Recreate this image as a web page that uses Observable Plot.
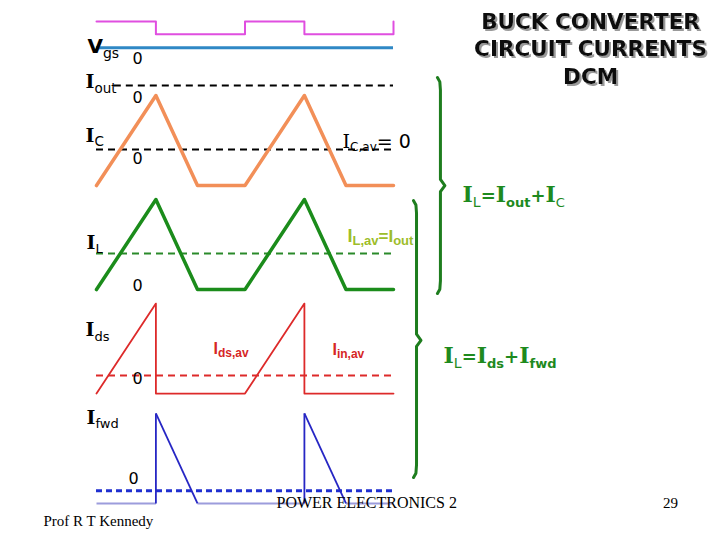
<!DOCTYPE html>
<html><head><meta charset="utf-8">
<script src="https://cdn.jsdelivr.net/npm/d3@7"></script>
<script src="https://cdn.jsdelivr.net/npm/@observablehq/plot@0.6"></script>
<style>html,body{margin:0;padding:0;background:#fff;} #chart{width:720px;height:540px;}</style>
</head><body><div id="chart"></div>
<script>
// ---------- DATA (time in switching periods, currents in arbitrary units) ----------
const vgsTime  = [0, 0.4, 0.4, 1.0, 1.0, 1.4, 1.4, 2.0, 2.0];
const vgsGate  = [1, 1, 0, 0, 1, 1, 0, 0, 1];
const icTime   = [0, 0.4, 0.68, 1.0, 1.4, 1.68, 2.0];
const icValue  = [-1.0, 1.5, -1.0, -1.0, 1.5, -1.0, -1.0];
const ilTime   = [0, 0.4, 0.68, 1.0, 1.4, 1.68, 2.0];
const ilValue  = [0, 2.5, 0, 0, 2.5, 0, 0];
const idsTime  = [0, 0.4, 0.4, 1.0, 1.4, 1.4, 2.0];
const idsValue = [0, 2.5, 0, 0, 2.5, 0, 0];
const ifwdTime  = [0, 0.4, 0.4, 0.68, 1.4, 1.4, 1.68, 2.0];
const ifwdValue = [0, 0, 2.5, 0, 0, 2.5, 0, 0];
const avgNames  = ["Iout", "IC", "IL", "Ids", "Ifwd"];
const avgValues = [0, 0, 1.0, 0.5, 0.35];
const titleLines = ["BUCK CONVERTER", "CIRCUIT CURRENTS", "DCM"];
const footerLeft = "Prof R T Kennedy";
const footerMid = "POWER ELECTRONICS 2";
const pageNo = "29";

// ---------- LAYOUT (trace baselines on the shared y scale) ----------
const base = {gate: 14.06, vgs: 13.69, Iout: 12.64, IC: 10.86, IL: 6.97, Ids: 4.08, Ifwd: 1.03};
const gateAmp = 0.36;
const SANS = "'DejaVu Sans', Verdana, sans-serif";
const SERIF = "'DejaVu Serif', serif";
const ARIAL = "'Liberation Sans', Arial, sans-serif";
const TIMES = "'Liberation Serif', 'Times New Roman', serif";

const rows = (T, V) => T.map((t, i) => ({t, v: V[i]}));
const vgsRows  = rows(vgsTime, vgsGate);
const icRows   = rows(icTime, icValue);
const ilRows   = rows(ilTime, ilValue);
const idsRows  = rows(idsTime, idsValue);
const ifwdRows = rows(ifwdTime, ifwdValue);
const ifwdSegs = d3.range(ifwdRows.length - 1).map(k => ({
  t1: ifwdRows[k].t, v1: ifwdRows[k].v, t2: ifwdRows[k + 1].t, v2: ifwdRows[k + 1].v,
  pulse: ifwdRows[k].v > 0 || ifwdRows[k + 1].v > 0
}));
const avg = Object.fromEntries(avgNames.map((n, i) => [n, avgValues[i]]));

// braces
const braceSpecs = [
  {id: "a", t: 2.316, top: 12.86, mid: 9.86, bot: 6.86},
  {id: "b", t: 2.155, top: 9.44, mid: 5.56, bot: 1.75}
];
const braceRows = braceSpecs.flatMap(b => [
  [-0.02, b.top], [-0.004, b.top - 0.12], [0, b.top - 0.35],
  [0, b.mid + 0.17], [0.03, b.mid], [0, b.mid - 0.17],
  [0, b.bot + 0.35], [-0.004, b.bot + 0.12], [-0.02, b.bot]
].map(([dt, y]) => ({id: b.id, t: b.t + dt, y})));

// text
const P = (s, size, o = {}) => ({s, size, w: o.w || "normal", f: o.f || SANS, dy: o.dy || 0});
const richLabels = [
  {t: -0.061, y: 13.53, fill: "#000", parts: [P("V", 20, {w: "bold"}), P("gs", 14, {dy: 5})]},
  {t: -0.074, y: 12.58, fill: "#000", parts: [P("I", 19, {w: "bold", f: SERIF}), P("out", 13.5, {dy: 5})]},
  {t: -0.074, y: 11.08, fill: "#000", parts: [P("I", 19, {w: "bold", f: SERIF}), P("C", 13.5, {dy: 4})]},
  {t: -0.067, y: 8.11, fill: "#000", parts: [P("I", 19, {w: "bold", f: SERIF}), P("L", 13, {dy: 4})]},
  {t: -0.074, y: 5.69, fill: "#000", parts: [P("I", 19, {w: "bold", f: SERIF}), P("ds", 13, {dy: 5})]},
  {t: -0.067, y: 3.25, fill: "#000", parts: [P("I", 19, {w: "bold", f: SERIF}), P("fwd", 13, {dy: 4})]},
  {t: 1.657, y: 10.89, fill: "#000", parts: [P("I", 19, {f: SERIF}), P("C,av", 12, {dy: 3}), P("= 0", 19)]},
  {t: 1.69, y: 8.28, fill: "#9dbd2a", parts: [P("I", 18, {w: "bold", f: ARIAL}), P("L,av", 13, {w: "bold", f: ARIAL, dy: 3}), P("=I", 17, {w: "bold", f: ARIAL}), P("out", 13, {w: "bold", f: ARIAL, dy: 3})]},
  {t: 0.788, y: 5.19, fill: "#d62626", parts: [P("I", 16, {w: "bold", f: ARIAL}), P("ds,av", 12, {w: "bold", f: ARIAL, dy: 3})]},
  {t: 1.589, y: 5.14, fill: "#d62626", parts: [P("I", 16, {w: "bold", f: ARIAL}), P("in,av", 12, {w: "bold", f: ARIAL, dy: 3})]},
  {t: 2.465, y: 9.39, fill: "#1e8a1e", parts: [P("I", 22, {w: "bold", f: SERIF}), P("L", 14, {dy: 5}), P("=", 18, {w: "bold"}), P("I", 22, {w: "bold", f: SERIF}), P("out", 13, {w: "bold", dy: 5}), P("+", 18, {w: "bold"}), P("I", 22, {w: "bold", f: SERIF}), P("C", 13, {dy: 5})]},
  {t: 2.337, y: 4.94, fill: "#1e8a1e", parts: [P("I", 22, {w: "bold", f: SERIF}), P("L", 14, {dy: 5}), P("=", 18, {w: "bold"}), P("I", 22, {w: "bold", f: SERIF}), P("ds", 13, {w: "bold", dy: 5}), P("+", 18, {w: "bold"}), P("I", 22, {w: "bold", f: SERIF}), P("fwd", 13, {w: "bold", dy: 5})]}
];
richLabels.forEach(d => d.key = d.parts.map(p => p.s).join(""));
const zeroLabels = [
  {t: 0.276, y: 13.25}, {t: 0.276, y: 12.14}, {t: 0.276, y: 10.47},
  {t: 0.276, y: 6.94}, {t: 0.276, y: 4.36}, {t: 0.25, y: 1.56}
];
const titleRows = titleLines.map((s, i) => ({s, t: 3.327, y: [14.22, 13.47, 12.69][i]}));

const dash = {strokeDasharray: "7,5", strokeWidth: 2};
const chart = Plot.plot({
  width: 720, height: 540, margin: 0,
  x: {domain: [0, 2], range: [96, 393], axis: null},
  y: {domain: [0, 15], range: [540, 0], axis: null},
  style: {background: "white", fontFamily: SANS, overflow: "visible"},
  marks: [
    // Vgs
    Plot.line(vgsRows, {x: "t", y: d => base.gate + gateAmp * d.v, stroke: "#e04ee0", strokeWidth: 2}),
    Plot.ruleY([base.vgs], {x1: 0, x2: 2, stroke: "#2f88c5", strokeWidth: 3}),
    // average / zero reference lines
    Plot.ruleY([base.Iout + avg.Iout], {x1: 0.12, x2: 2, stroke: "#000", ...dash}),
    Plot.ruleY([base.IC + avg.IC], {x1: 0, x2: 2, stroke: "#000", ...dash}),
    Plot.ruleY([base.IL + avg.IL], {x1: 0, x2: 2, stroke: "#2a8a2a", ...dash}),
    Plot.ruleY([base.Ids + avg.Ids], {x1: 0, x2: 2, stroke: "#dd2a2a", ...dash}),
    Plot.ruleY([base.Ifwd + avg.Ifwd], {x1: 0, x2: 2, stroke: "#1f2fd0", strokeWidth: 3, strokeDasharray: "6,4"}),
    // waveforms
    Plot.line(icRows, {x: "t", y: d => base.IC + d.v, stroke: "#f28f58", strokeWidth: 3.5}),
    Plot.line(ilRows, {x: "t", y: d => base.IL + d.v, stroke: "#1b8c1b", strokeWidth: 3.5}),
    Plot.line(idsRows, {x: "t", y: d => base.Ids + d.v, stroke: "#dd2a2a", strokeWidth: 1.8}),
    Plot.link(ifwdSegs.filter(d => !d.pulse), {x1: "t1", y1: d => base.Ifwd + d.v1, x2: "t2", y2: d => base.Ifwd + d.v2, stroke: "#9c9cdc", strokeWidth: 2}),
    Plot.link(ifwdSegs.filter(d => d.pulse), {x1: "t1", y1: d => base.Ifwd + d.v1, x2: "t2", y2: d => base.Ifwd + d.v2, stroke: "#2626c4", strokeWidth: 1.8}),
    // braces
    Plot.line(braceRows, {x: "t", y: "y", z: "id", stroke: "#1e7d1e", strokeWidth: 3}),
    // zero labels
    Plot.text(zeroLabels, {x: "t", y: "y", text: () => "0", lineAnchor: "bottom", textAnchor: "middle", fontSize: 16, fill: "#000"}),
    // rich labels (subscripts added below)
    Plot.text(richLabels, {x: "t", y: "y", text: "key", lineAnchor: "bottom", textAnchor: "start", fontSize: 16}),
    // title (drop shadow added below as an SVG filter)
    Plot.text(titleRows, {x: "t", y: "y", text: "s", lineAnchor: "bottom", textAnchor: "middle", fontSize: 21.5, fontWeight: "bold", fill: "#111"}),
    // footer
    Plot.text([footerMid], {x: 1.212, y: 0.89, text: d => d, lineAnchor: "bottom", textAnchor: "start", fontSize: 16, fontFamily: TIMES, fill: "#000"}),
    Plot.text([pageNo], {x: 3.865, y: 0.89, text: d => d, lineAnchor: "bottom", textAnchor: "middle", fontSize: 15, fontFamily: TIMES, fill: "#000"}),
    Plot.text([footerLeft], {x: -0.357, y: 0.39, text: d => d, lineAnchor: "bottom", textAnchor: "start", fontSize: 15, fontFamily: TIMES, fill: "#000"})
  ]
});

// drop-shadow filter for the title
const svg = d3.select(chart);
const defs = svg.insert("defs", ":first-child");
defs.append("filter").attr("id", "title-shadow").attr("x", "-10%").attr("y", "-30%").attr("width", "130%").attr("height", "170%")
  .append("feDropShadow").attr("dx", 2).attr("dy", 2).attr("stdDeviation", 0.4)
  .attr("flood-color", "#9a9a9a").attr("flood-opacity", 1);

const richMap = new Map(richLabels.map(d => [d.key, d]));
const titleSet = new Set(titleLines);
svg.selectAll("text").each(function() {
  if (titleSet.has(this.textContent)) { d3.select(this).attr("filter", "url(#title-shadow)"); return; }
  const d = richMap.get(this.textContent);
  if (!d) return;
  const el = d3.select(this);
  el.attr("dy", null).text(null);
  let shift = 0;
  d.parts.forEach(p => {
    const ts = el.append("tspan").text(p.s)
      .attr("font-size", p.size).attr("font-weight", p.w)
      .attr("font-family", p.f).attr("fill", d.fill);
    if (p.dy !== shift) { ts.attr("dy", p.dy - shift); shift = p.dy; }
  });
});
document.getElementById("chart").appendChild(chart);
</script>
</body></html>
